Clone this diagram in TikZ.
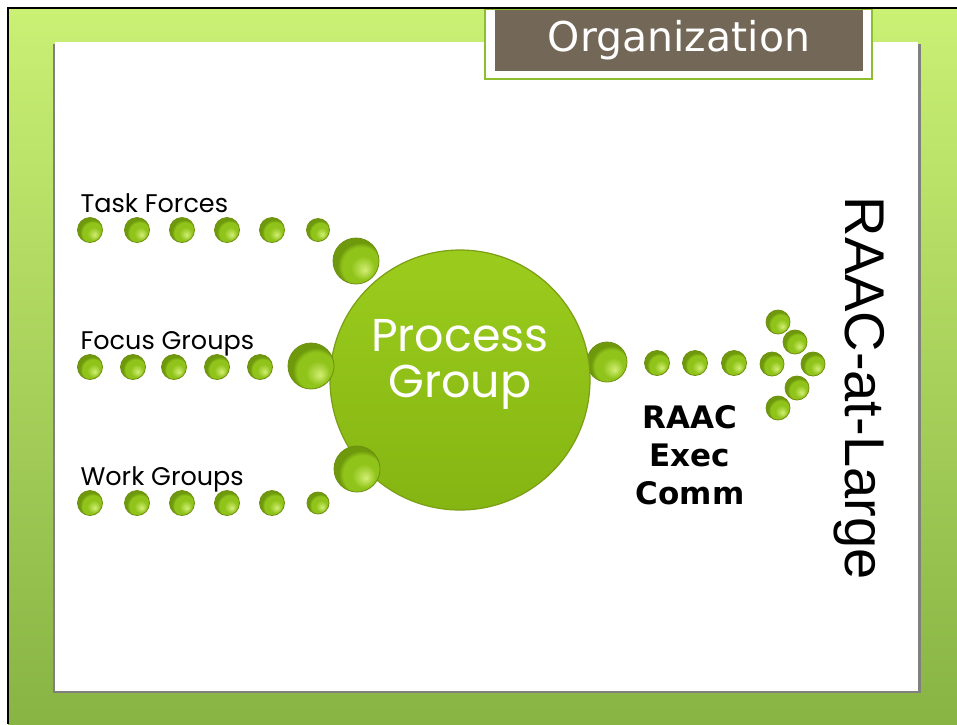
\documentclass[tikz,border=0pt]{standalone}
\usepackage{fontspec}
\setmainfont{Liberation Sans}
\newfontfamily\roundfont{Poppins}
\newfontfamily\execfont{DejaVu Sans}
\definecolor{bgtop}{HTML}{CAF074}
\definecolor{bgbot}{HTML}{88B444}
\definecolor{titlebrown}{HTML}{736857}
\definecolor{titleedge}{HTML}{8DBE2E}
\definecolor{bubhi}{HTML}{D2EE74}
\definecolor{bubmid}{HTML}{90C41A}
\definecolor{bubdark}{HTML}{6E990C}
\definecolor{bubedge}{HTML}{6F8F10}
\definecolor{hubtop}{HTML}{9BCC1D}
\definecolor{hubbot}{HTML}{85B512}
\definecolor{hubedge}{HTML}{7A9E14}
\pgfdeclareradialshading{bubble}{\pgfpoint{10bp}{-10bp}}{color(0bp)=(bubhi); color(13bp)=(bubmid); color(21bp)=(bubmid); color(25bp)=(bubdark); color(50bp)=(bubdark)}
\tikzset{
  bubble/.style={circle,draw=bubedge,line width=0.8pt,shading=bubble,inner sep=0pt,minimum size=#1},
  bubble/.default=25pt,
  hub/.style={circle,minimum size=260pt,top color=hubtop,bottom color=hubbot,draw=hubedge,line width=1.2pt},
  rowlabel/.style={font=\roundfont\fontsize{25.5}{30}\selectfont,anchor=base west}
}
\begin{document}
\begin{tikzpicture}[x=1pt,y=-1pt]
\useasboundingbox (0,0) rectangle (957,724);
% frame and panel
\fill[white] (0,0) rectangle (957,724);
\shade[top color=bgtop,bottom color=bgbot] (8,8) rectangle (957,724);
\draw[line width=2.5pt] (8,724) -- (8,8) -- (957,8);
\fill[gray] (53,44) rectangle (921,693);
\fill[white] (55,42) rectangle (918,691);
% title
\path[draw=titleedge,fill=white,line width=1.5pt] (485,9.5) rectangle (872,79);
\fill[titlebrown] (495,9.5) rectangle (863,71);
\node[text=white,font=\execfont\fontsize{41}{46}\selectfont] (title) at (679,40) {Organization};
% exec comm line, the first bubble sits behind the hub
\node[bubble=40pt] (ex0) at (607,362) {};
\node[hub] (hub) at (460,380) {};
\node[text=white,align=center,font=\roundfont\fontsize{46}{46}\selectfont] (hubtext) at (460,364) {Process\\Group};
\foreach \x [count=\i] in {657,695,734}
  \node[bubble] (ex\i) at (\x,363) {};
% arrow head of bubbles
\foreach \x/\y [count=\i] in {778/322,795/342,772/364,813/364,797/388,778/408}
  \node[bubble=24pt] (al\i) at (\x,\y) {};
% three rows feeding the hub
\foreach \x [count=\i] in {90,137,182,227,272}
  \node[bubble] (tf\i) at (\x,230) {};
\node[bubble=23pt] (tf6) at (318,230) {};
\foreach \x [count=\i] in {90,133,174,217,260}
  \node[bubble] (fg\i) at (\x,367) {};
\foreach \x [count=\i] in {90,137,182,227,272}
  \node[bubble] (wg\i) at (\x,503) {};
\node[bubble=22pt] (wg6) at (318,503) {};
\node[bubble=46pt] (tfjoin) at (356,261) {};
\node[bubble=46pt] (fgjoin) at (311,366) {};
\node[bubble=46pt] (wgjoin) at (357,469) {};
\node[rowlabel] (tasks) at (77,212) {Task Forces};
\node[rowlabel] (focus) at (77,349) {Focus Groups};
\node[rowlabel] (work) at (77,485) {Work Groups};
% right hand texts
\node[align=center,font=\execfont\bfseries\fontsize{31}{38}\selectfont] (exec) at (690,455) {RAAC\\Exec\\Comm};
\node[rotate=-90,anchor=base,font=\fontsize{56}{60}\selectfont] (large) at (845,388) {RAAC-at-Large};
\end{tikzpicture}
\end{document}
